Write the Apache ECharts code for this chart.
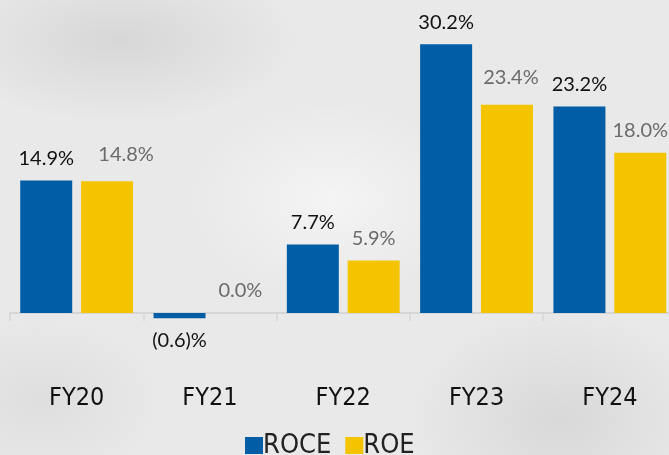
<!DOCTYPE html>
<html>
<head>
<meta charset="utf-8">
<script src="https://cdn.jsdelivr.net/npm/echarts@6/dist/echarts.min.js"></script>
<style>
html,body{margin:0;padding:0;}
body{width:669px;height:455px;overflow:hidden;position:relative;
background:
 radial-gradient(ellipse 260px 120px at 120px 40px, rgba(200,200,200,0.55), rgba(200,200,200,0) 70%),
 radial-gradient(ellipse 220px 160px at 560px 420px, rgba(205,205,205,0.6), rgba(205,205,205,0) 70%),
 radial-gradient(ellipse 200px 140px at 330px 200px, rgba(255,255,255,0.5), rgba(255,255,255,0) 70%),
 radial-gradient(ellipse 180px 120px at 40px 400px, rgba(215,215,215,0.6), rgba(215,215,215,0) 70%),
 #e9e9e9;}
#c{width:690px;height:455px;position:absolute;left:0;top:0;}
</style>
</head>
<body>
<div id="c"></div>
<script>
const categories = ['FY20','FY21','FY22','FY23','FY24'];
const roce = [14.9, -0.6, 7.7, 30.2, 23.2];
const roe = [14.8, 0.0, 5.9, 23.4, 18.0];
const roceLabels = ['14.9%','(0.6)%','7.7%','30.2%','23.2%'];
const roeLabels = ['14.8%','0.0%','5.9%','23.4%','18.0%'];

const chart = echarts.init(document.getElementById('c'), null, {renderer:'canvas'});
const valFont = 'Lato, "Open Sans", sans-serif';
const catFont = '"DejaVu Sans Condensed", "Liberation Sans Narrow", sans-serif';

const roceData = roce.map((v,i)=>{
  const d = {value:v};
  if (v < 0) d.label = {position:'bottom', distance:12};
  return d;
});
const roeOffsets = [[19,-5],[0,0],[0,0],[4,-5],[0,0]];
const roeData = roe.map((v,i)=>({value:v, label:{offset:roeOffsets[i]}}));

chart.setOption({
  backgroundColor:'transparent',
  animation:false,
  grid:{left:10, width:666.5, top:28.2, height:302.6, containLabel:false},
  legend:{
    data:['ROCE','ROE'],
    top:427, left:240,
    icon:'rect', itemWidth:18, itemHeight:17, itemGap:14,
    textStyle:{fontFamily:catFont, fontSize:27, color:'#222', padding:[0,0,0,-5]}
  },
  xAxis:{
    type:'category', data:categories,
    axisLine:{onZero:true, lineStyle:{color:'#d6d6d6', width:2}},
    axisTick:{show:true, length:8, lineStyle:{color:'#d6d6d6', width:1.5}},
    axisLabel:{margin:55, fontFamily:catFont, fontSize:25, color:'#111'}
  },
  yAxis:{type:'value', min:-2, max:32, show:false, splitLine:{show:false}},
  series:[
    {name:'ROCE', type:'bar', data:roceData, barWidth:52, barGap:'17%',
     itemStyle:{color:'#005DA6'},
     label:{show:true, position:'top', distance:12, fontFamily:valFont, fontSize:20, color:'#111',
       formatter:p=>roceLabels[p.dataIndex]}},
    {name:'ROE', type:'bar', data:roeData, barWidth:52,
     itemStyle:{color:'#F5C400'},
     label:{show:true, position:'top', distance:12, fontFamily:valFont, fontSize:20, color:'#6b6b6b',
       formatter:p=>roeLabels[p.dataIndex]}}
  ]
});
</script>
</body>
</html>
